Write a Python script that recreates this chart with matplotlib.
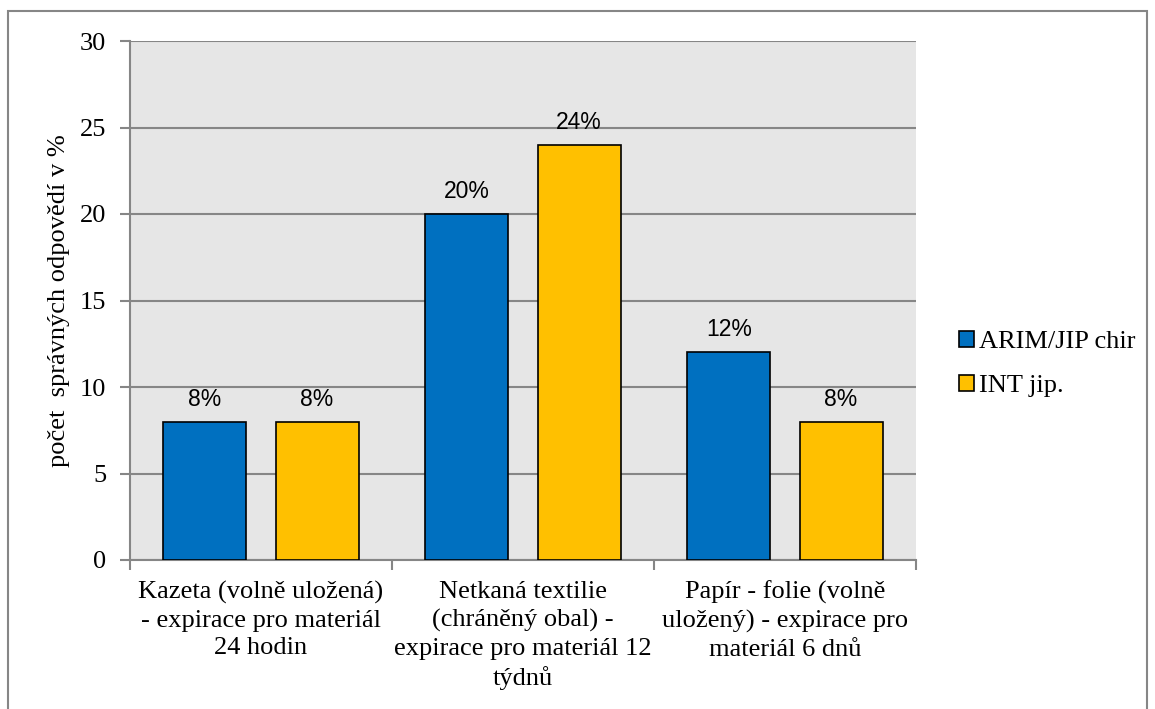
import numpy as np
import matplotlib.pyplot as plt
from matplotlib.patches import Rectangle

categories = [
    "Kazeta (volně uložená)\n- expirace pro materiál\n24 hodin",
    "Netkaná textilie\n(chráněný obal) -\nexpirace pro materiál 12\ntýdnů",
    "Papír - folie (volně\nuložený) - expirace pro\nmateriál 6 dnů",
]
series_names = ["ARIM/JIP chir", "INT jip."]
arim = [8, 20, 12]
intj = [8, 24, 8]
colors = ["#0070C0", "#FFC000"]

serif = ["Liberation Serif", "DejaVu Serif"]
grid_col = "#868686"

fig = plt.figure(figsize=(11.55, 7.09), dpi=100)
ax = fig.add_axes([130 / 1155, 1 - 560 / 709, 786 / 1155, 519 / 709])
ax.set_facecolor("#E6E6E6")

x = np.arange(len(categories))
bw = 0.317
off = 0.214
handles = []
for vals, name, col, sign in [(arim, series_names[0], colors[0], -1),
                              (intj, series_names[1], colors[1], 1)]:
    bars = ax.bar(x + sign * off, vals, bw, color=col, edgecolor="black",
                  linewidth=1.2, label=name, zorder=3)
    handles.append(bars)
    for b, v in zip(bars, vals):
        ax.annotate(f"{v}%", (b.get_x() + b.get_width() / 2, v),
                    xytext=(0, 11.5), textcoords="offset points",
                    ha="center", va="baseline", fontsize=16.5,
                    family=["Liberation Sans", "DejaVu Sans"])

ax.set_ylim(0, 30)
ax.set_xlim(-0.5, 2.5)
ax.set_yticks(range(0, 31, 5))
ax.yaxis.grid(True, color=grid_col, linewidth=1.5, zorder=0)
ax.tick_params(axis="y", length=7, width=1.5, color=grid_col, labelsize=19, pad=10)
for lab in ax.get_yticklabels():
    lab.set_family(serif)

ax.set_xticks(x)
ax.set_xticklabels(categories, fontsize=19, family=serif, linespacing=1.34)
ax.tick_params(axis="x", length=0, pad=15)
ax.set_xticks([-0.5, 0.5, 1.5, 2.5], minor=True)
ax.tick_params(axis="x", which="minor", length=7, width=1.5, color=grid_col)

for side in ["top", "right"]:
    ax.spines[side].set_visible(False)
for side in ["left", "bottom"]:
    ax.spines[side].set_color(grid_col)
    ax.spines[side].set_linewidth(1.5)

ax.set_ylabel("počet  správných odpovědí v %", fontsize=19, family=serif, labelpad=7)

fig.legend(handles=handles, labels=series_names, loc="center left",
           bbox_to_anchor=(959 / 1155, 1 - 364 / 709), frameon=False,
           prop={"family": serif, "size": 19}, handlelength=0.57,
           handleheight=0.57, handletextpad=0.2, labelspacing=0.8,
           borderpad=0, borderaxespad=0)

fig.patches.append(Rectangle((8 / 1155, -0.05), 1139 / 1155, 1.05 - 11 / 709,
                             transform=fig.transFigure, fill=False,
                             edgecolor=grid_col, linewidth=1.5))

fig.savefig("out.png", dpi=100)
